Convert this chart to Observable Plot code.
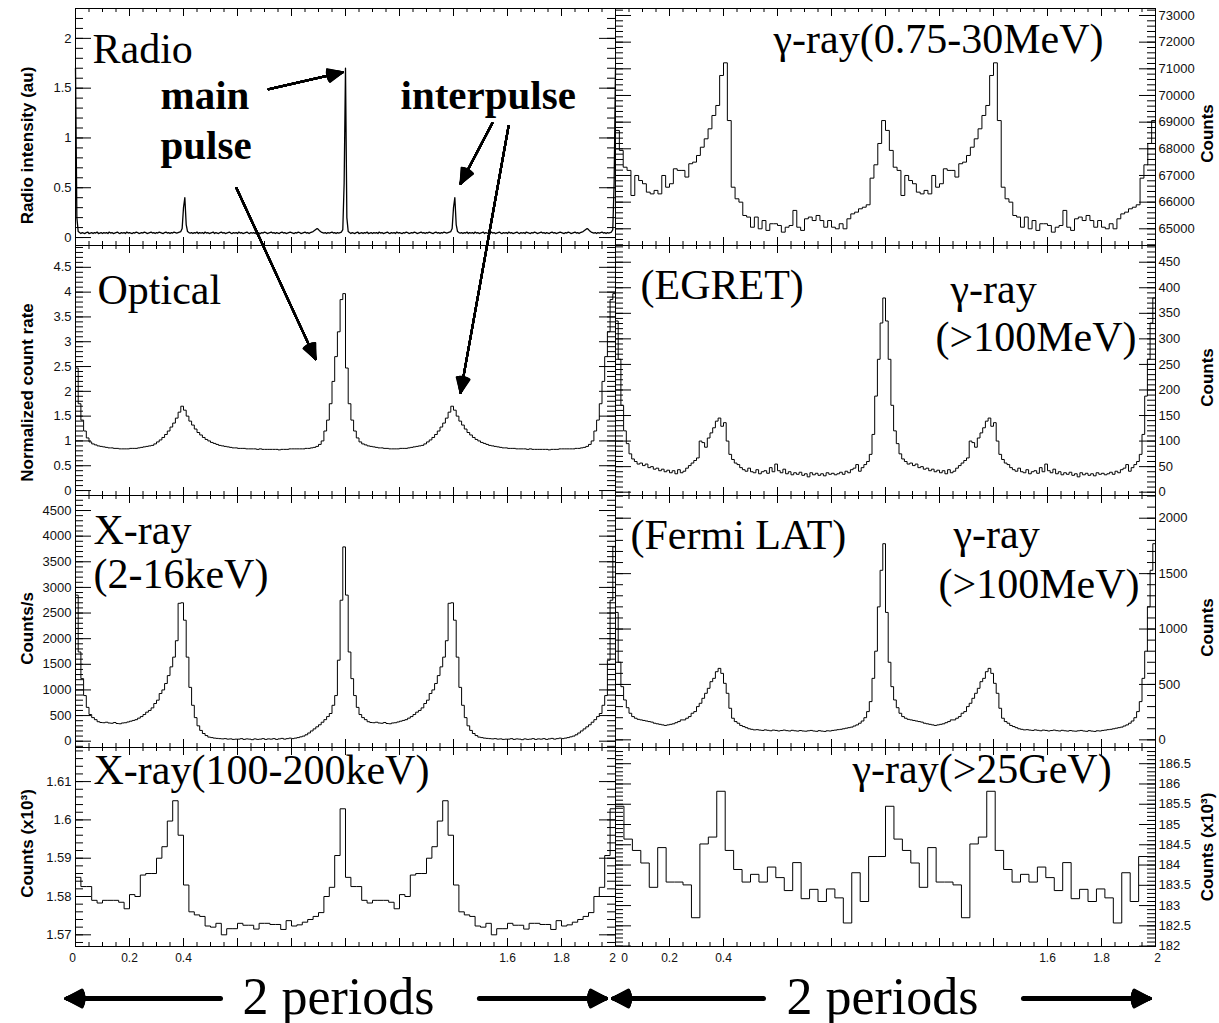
<!DOCTYPE html>
<html>
<head>
<meta charset="utf-8">
<script src="https://cdn.jsdelivr.net/npm/d3@7"></script>
<script src="https://cdn.jsdelivr.net/npm/@observablehq/plot@0.6"></script>
<style>
  body { margin: 0; background: #fff; }
  #fig { position: relative; width: 1219px; height: 1023px; overflow: hidden; background: #fff; }
  .panel { position: absolute; }
  .panel svg { overflow: visible; }
</style>
</head>
<body>
<div id="fig"></div>
<script>
// ---------------- DATA: one rotation period each (drawn twice, phase 0–2) ----------------
// Radio intensity (au), 200 phase bins
const radioIntensity = [
  1.70,0.20,0.06,0.05,0.04,0.05,0.045,0.04,0.05,0.055,
  0.04,0.045,0.05,0.04,0.05,0.045,0.055,0.04,0.045,0.05,
  0.04,0.05,0.045,0.05,0.04,0.055,0.045,0.05,0.04,0.045,
  0.05,0.055,0.045,0.04,0.05,0.045,0.05,0.04,0.055,0.045,
  0.05,0.045,0.04,0.05,0.045,0.055,0.05,0.04,0.045,0.05,
  0.045,0.055,0.05,0.04,0.045,0.05,0.055,0.045,0.05,0.04,
  0.05,0.045,0.055,0.05,0.045,0.04,0.05,0.055,0.045,0.05,
  0.04,0.05,0.045,0.055,0.05,0.045,0.05,0.055,0.06,0.09,
  0.30,0.40,0.13,0.06,0.05,0.045,0.05,0.04,0.05,0.045,
  0.055,0.04,0.05,0.045,0.05,0.04,0.055,0.045,0.05,0.04,
  0.045,0.05,0.055,0.04,0.05,0.045,0.04,0.05,0.055,0.045,
  0.05,0.04,0.045,0.05,0.055,0.045,0.04,0.05,0.045,0.05,
  0.04,0.055,0.045,0.05,0.04,0.045,0.05,0.055,0.045,0.04,
  0.05,0.045,0.05,0.04,0.055,0.05,0.045,0.04,0.05,0.045,
  0.055,0.05,0.04,0.045,0.05,0.055,0.045,0.05,0.04,0.05,
  0.045,0.04,0.05,0.055,0.045,0.05,0.04,0.045,0.05,0.055,
  0.05,0.045,0.04,0.05,0.045,0.055,0.05,0.04,0.045,0.05,
  0.055,0.045,0.05,0.04,0.05,0.055,0.06,0.07,0.08,0.09,
  0.08,0.065,0.055,0.05,0.045,0.05,0.04,0.05,0.045,0.05,
  0.055,0.045,0.05,0.04,0.05,0.045,0.05,0.055,0.08,0.55
];
// Optical normalized count rate, 100 bins
const opticalRate = [
  2.47,1.75,1.42,1.20,1.06,0.98,0.94,0.92,0.90,0.89,
  0.88,0.87,0.86,0.86,0.85,0.85,0.84,0.84,0.84,0.84,
  0.85,0.85,0.85,0.86,0.87,0.88,0.89,0.90,0.91,0.94,
  0.98,1.02,1.07,1.13,1.20,1.28,1.36,1.46,1.58,1.70,
  1.62,1.50,1.40,1.32,1.24,1.17,1.12,1.07,1.03,1.00,
  0.97,0.95,0.93,0.91,0.90,0.89,0.88,0.87,0.86,0.86,
  0.85,0.85,0.85,0.84,0.84,0.84,0.84,0.83,0.84,0.83,
  0.83,0.83,0.83,0.83,0.83,0.82,0.83,0.83,0.83,0.84,
  0.84,0.84,0.84,0.84,0.84,0.85,0.85,0.86,0.87,0.89,
  0.93,1.00,1.20,1.42,1.75,2.20,2.70,3.20,3.85,3.97
];
// X-ray 2-16 keV, counts/s, 100 bins
const xraySoft = [
  2850,1740,1220,890,660,520,460,420,380,365,
  360,370,355,350,365,345,340,355,360,375,
  390,405,420,450,480,520,566,600,650,735,
  800,930,1000,1125,1280,1450,1640,1960,2690,2700,
  2360,1640,1050,700,460,300,210,150,110,80,
  70,60,55,50,45,50,40,45,35,40,
  40,50,35,45,40,30,45,35,40,50,
  35,45,40,50,35,45,55,40,50,60,
  50,60,70,85,100,125,160,200,240,280,
  320,370,420,480,540,700,890,1580,2750,3790
];
// X-ray 100-200 keV, counts (x10^3), 50 bins
const xrayHard = [
  1.5850,1.5826,1.5826,1.5790,1.5783,1.5790,1.5790,1.5790,1.5785,1.5768,
  1.5805,1.5800,1.5856,1.5860,1.5860,1.5900,1.5930,1.5997,1.6050,1.5960,
  1.5830,1.5760,1.5752,1.5748,1.5723,1.5720,1.5730,1.5700,1.5716,1.5716,
  1.5730,1.5725,1.5725,1.5715,1.5730,1.5730,1.5727,1.5727,1.5714,1.5737,
  1.5723,1.5726,1.5733,1.5740,1.5748,1.5758,1.5800,1.5824,1.5907,1.6029
];
// gamma-ray 0.75-30 MeV (COMPTEL), counts, 70 bins
const gammaComptel = [
  68690,67940,67310,67190,66250,67000,66810,66690,66375,66310,
  66440,66310,67000,66560,66690,67250,67190,67190,66940,67440,
  67500,67750,68060,68375,68750,69250,69625,70750,71225,69060,
  66560,66125,66000,65500,65440,65060,65440,65000,65310,64940,
  65190,65190,65125,64875,65060,65125,65690,65060,64940,65375,
  65440,65310,65500,65310,65060,65310,65060,65000,65190,65000,
  65375,65560,65625,65750,65810,65900,66900,67400,68200,69060
];
// gamma-ray >100 MeV (EGRET), counts, 100 bins
const gammaEgret = [
  335,260,170,120,95,75,65,60,55,57,
  52,55,48,50,45,47,42,45,40,43,
  38,42,36,44,38,41,47,52,57,62,
  67,100,97,88,106,116,126,139,145,129,
  136,100,74,64,57,54,48,44,41,47,
  40,38,44,36,40,42,37,48,40,55,
  42,38,45,36,40,34,38,35,39,33,
  36,30,38,34,37,33,36,32,38,35,
  37,34,36,39,35,41,38,44,47,54,
  41,48,54,60,74,113,188,260,331,380
];
// gamma-ray >100 MeV (Fermi LAT), counts, 100 bins
const gammaFermi = [
  1150,700,480,360,290,240,210,195,185,180,
  175,170,165,160,150,145,140,135,130,135,
  140,145,155,165,180,180,195,210,240,255,
  300,330,375,420,465,525,555,615,645,600,
  510,420,285,195,165,150,130,120,110,100,
  95,90,92,88,85,90,86,82,88,85,
  80,84,88,83,80,86,82,79,84,80,
  78,82,85,80,77,83,79,76,82,80,
  85,88,92,95,100,105,110,115,125,135,
  150,170,200,255,345,555,800,1200,1530,1770
];
// gamma-ray >25 GeV, counts (x10^3), 32 bins
const gamma25GeV = [
  185.45,184.64,184.36,184.05,183.45,184.43,183.58,183.58,183.51,182.70,
  184.52,184.69,185.82,184.36,183.89,183.58,183.77,183.58,183.95,183.69,
  183.37,184.06,183.17,183.40,183.10,183.41,183.19,182.57,183.81,183.10,
  184.21,184.21
];

// ---------------- tick label lists ----------------
const radioTicks   = [0, 0.5, 1, 1.5, 2];
const opticalTicks = [0, 0.5, 1, 1.5, 2, 2.5, 3, 3.5, 4, 4.5];
const xraySoftTicks = [0, 500, 1000, 1500, 2000, 2500, 3000, 3500, 4000, 4500];
const xrayHardTicks = [1.57, 1.58, 1.59, 1.6, 1.61];
const comptelTicks = [65000, 66000, 67000, 68000, 69000, 70000, 71000, 72000, 73000];
const egretTicks   = [0, 50, 100, 150, 200, 250, 300, 350, 400, 450];
const fermiTicks   = [0, 500, 1000, 1500, 2000];
const gev25Ticks   = [182, 182.5, 183, 183.5, 184, 184.5, 185, 185.5, 186, 186.5];
const phaseLabels  = [0, 0.2, 0.4, 1.6, 1.8, 2];

// ---------------- layout ----------------
const rowTop = [8, 245, 495, 747];
const rowBottom = [245, 495, 747, 946];
const figHeight = 1023;
const colGeom = [
  {left: 0, width: 616, marginLeft: 75, marginRight: 1, side: "left"},
  {left: 614, width: 605, marginLeft: 1, marginRight: 64, side: "right"}
];
const SERIF = "'Liberation Serif', 'Times New Roman', serif";
const SANS = "'Liberation Sans', Arial, Helvetica, sans-serif";

const panels = [
  {col: 0, row: 0, values: radioIntensity, kind: "line", domain: [-0.08, 2.30], major: radioTicks, minorStep: 0.1,
   title: "Radio intensity (au)", titleDy: 18.5,
   labels: [{t: "Radio", dx: 17, dy: 54}, {t: "main", dx: 85, dy: 100, bold: true}, {t: "pulse", dx: 85, dy: 150, bold: true},
            {t: "interpulse", dx: 325, dy: 100, bold: true}],
   arrows: [[0.715, 1.49, 0.99, 1.66], [1.544, 1.15, 1.426, 0.54]]},
  {col: 0, row: 1, values: opticalRate, kind: "hist", domain: [-0.1, 4.94], major: opticalTicks, minorStep: 0.1,
   title: "Normalized count rate", titleDy: 22,
   labels: [{t: "Optical", dx: 22, dy: 58}],
   arrows: [[0.596, 6.10, 0.889, 2.65], [1.604, 7.35, 1.426, 1.97]]},
  {col: 0, row: 2, values: xraySoft, kind: "hist", domain: [-123, 4793], major: xraySoftTicks, minorStep: 100,
   title: "Counts/s", titleDy: 7,
   labels: [{t: "X-ray", dx: 18, dy: 48}, {t: "(2-16keV)", dx: 18, dy: 92}]},
  {col: 0, row: 3, values: xrayHard, kind: "hist", domain: [1.56695, 1.6189], major: xrayHardTicks, minorStep: 0.002,
   title: "Counts (x10³)", titleDy: -3.5,
   labels: [{t: "X-ray(100-200keV)", dx: 18, dy: 36}],
   edgeDx: {0: -3, 2: -3}, periodDx: -7, periodArrows: [[0.537, -0.035], [1.496, 1.967]]},
  {col: 1, row: 0, values: gammaComptel, kind: "hist", domain: [64374, 73262], major: comptelTicks, minorStep: 200,
   title: "Counts", titleDy: 6.5,
   labels: [{t: "γ-ray(0.75-30MeV)", dx: 158, dy: 44}]},
  {col: 1, row: 1, values: gammaEgret, kind: "hist", domain: [-6.5, 482.7], major: egretTicks, minorStep: 10,
   title: "Counts", titleDy: 7,
   labels: [{t: "(EGRET)", dx: 25, dy: 53}, {t: "γ-ray", dx: 335, dy: 57}, {t: "(>100MeV)", dx: 320, dy: 105}]},
  {col: 1, row: 2, values: gammaFermi, kind: "hist", domain: [-69, 2205], major: fermiTicks, minorStep: 100,
   title: "Counts", titleDy: 6,
   labels: [{t: "(Fermi LAT)", dx: 15, dy: 53}, {t: "γ-ray", dx: 338, dy: 52}, {t: "(>100MeV)", dx: 323, dy: 102}]},
  {col: 1, row: 3, values: gamma25GeV, kind: "hist", domain: [181.99, 186.9], major: gev25Ticks, minorStep: 0.1,
   title: "Counts (x10³)", titleDy: 0,
   labels: [{t: "γ-ray(>25GeV)", dx: 237, dy: 35}],
   edgeDx: {0: 9, 2: 2}, periodDx: -3, periodArrows: [[0.548, -0.011], [1.511, 1.98]]}
];

// ---------------- helpers ----------------
function stepTicks([a, b], step) {
  const out = [];
  for (let k = Math.ceil(a / step - 1e-9); k * step <= b + 1e-9; k++) out.push(+(k * step).toFixed(6));
  return out;
}
function series(values, kind) {
  const n = values.length, pts = [];
  for (let p = 0; p < 2; p++) values.forEach((v, i) => pts.push({x: p + i / n, y: v}));
  pts.push({x: 2, y: kind === "line" ? values[0] : values[n - 1]});
  return pts;
}
function arrowSet(data, {dy = 0, shaft, head, wing, angle}) {
  const base = {x1: d => d[0], y1: d => d[1], x2: d => d[2], y2: d => d[3], stroke: "#000", dy};
  const out = [Plot.arrow(data, {...base, strokeWidth: shaft, headLength: 0, insetEnd: wing * 0.6})];
  for (let a = 4; a <= angle; a += 4) {
    out.push(Plot.arrow(data, {...base, strokeWidth: head, headAngle: a, headLength: wing * 1.5 / head}));
  }
  return out;
}

function build(p) {
  const g = colGeom[p.col];
  const frameH = rowBottom[p.row] - rowTop[p.row];
  const frameW = g.width - g.marginLeft - g.marginRight;
  const bottomRow = p.row === 3;
  const mb = bottomRow ? figHeight - rowBottom[3] : 0;
  const [d0, d1] = p.domain;
  const pxX = 2 / frameW;
  const pxY = (d1 - d0) / frameH;
  const left = g.side === "left";
  const minor = stepTicks(p.domain, p.minorStep);
  const xMinor = stepTicks([0, 2], 0.05);
  const xMajor = stepTicks([0, 2], 0.2);
  const marks = [];

  // ticks on all four sides, pointing inward (ROOT style)
  const yTicks = (vals, len) => [
    Plot.ruleY(vals, {y: d => d, x1: () => 0, x2: () => len * pxX, stroke: "#000", strokeWidth: 1}),
    Plot.ruleY(vals, {y: d => d, x1: () => 2 - len * pxX, x2: () => 2, stroke: "#000", strokeWidth: 1})
  ];
  const xTicks = (vals, len) => [
    Plot.ruleX(vals, {x: d => d, y1: () => d0, y2: () => d0 + len * pxY, stroke: "#000", strokeWidth: 1}),
    Plot.ruleX(vals, {x: d => d, y1: () => d1 - len * pxY, y2: () => d1, stroke: "#000", strokeWidth: 1})
  ];
  marks.push(...yTicks(minor, 8), ...yTicks(p.major, 16), ...xTicks(xMinor, 4), ...xTicks(xMajor, 8));

  // light curve
  marks.push(Plot.line(series(p.values, p.kind), {
    x: "x", y: "y", curve: p.kind === "line" ? "linear" : "step-after",
    stroke: "#000", strokeWidth: p.kind === "line" ? 1.3 : 1
  }));

  marks.push(Plot.frame({stroke: "#000", strokeWidth: 1}));

  // y tick labels
  marks.push(Plot.text(p.major, {
    y: d => d, text: d => String(d), frameAnchor: left ? "left" : "right",
    dx: left ? -4 : 3, textAnchor: left ? "end" : "start", lineAnchor: "middle",
    fontSize: 13, fill: "#111", fontFamily: SANS
  }));
  // axis title
  marks.push(Plot.text([p.title], {
    frameAnchor: left ? "left" : "right", rotate: -90, dx: left ? -48 : 52, dy: p.titleDy,
    textAnchor: "middle", lineAnchor: "middle",
    fontWeight: "bold", fontSize: 17, fill: "#000", fontFamily: SANS
  }));
  // panel labels
  for (const l of p.labels) {
    marks.push(Plot.text([l.t], {
      frameAnchor: "top-left", dx: l.dx, dy: l.dy, textAnchor: "start", lineAnchor: "bottom",
      fontFamily: SERIF, fontSize: l.bold ? 41 : 42, fontWeight: l.bold ? "bold" : "normal", fill: "#000"
    }));
  }
  // annotation arrows
  if (p.arrows) marks.push(...arrowSet(p.arrows, {shaft: 2, head: 2, wing: 16, angle: 48}));

  if (bottomRow) {
    for (const v of phaseLabels) {
      marks.push(Plot.text([v], {
        x: d => d, text: d => String(d), frameAnchor: "bottom", dy: 12, dx: p.edgeDx[v] || 0,
        textAnchor: "middle", lineAnchor: "middle",
        fontSize: 12, fill: "#111", fontFamily: SANS
      }));
    }
    marks.push(Plot.text(["2 periods"], {
      frameAnchor: "bottom", dx: p.periodDx, dy: 67, textAnchor: "middle", lineAnchor: "bottom",
      fontSize: 52, fontFamily: SERIF, fill: "#000"
    }));
    const arr = p.periodArrows.map(([a, b]) => [a, d0, b, d0]);
    marks.push(...arrowSet(arr, {dy: 52, shaft: 5, head: 3, wing: 18, angle: 56}));
  }

  return Plot.plot({
    width: g.width,
    height: frameH + mb,
    marginLeft: g.marginLeft,
    marginRight: g.marginRight,
    marginTop: 0,
    marginBottom: mb,
    x: {domain: [0, 2], axis: null},
    y: {domain: p.domain, axis: null},
    style: "background: transparent; overflow: visible; font-family: " + SANS + "; font-size: 13px;",
    marks
  });
}

const fig = document.getElementById("fig");
for (const p of panels) {
  const g = colGeom[p.col];
  const div = document.createElement("div");
  div.className = "panel";
  div.style.left = g.left + "px";
  div.style.top = rowTop[p.row] + "px";
  div.style.width = g.width + "px";
  div.appendChild(build(p));
  fig.appendChild(div);
}
</script>
</body>
</html>
